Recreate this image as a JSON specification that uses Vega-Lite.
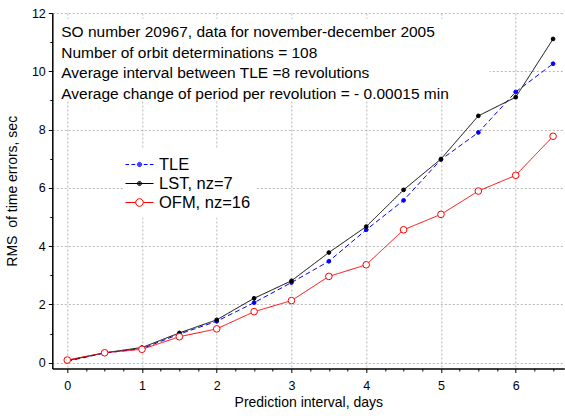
{
  "$schema": "https://vega.github.io/schema/vega-lite/v6.json",
  "autosize": "none",
  "width": 512,
  "height": 355.5,
  "padding": {"left": 52.3, "top": 13, "right": 1, "bottom": 48},
  "background": "white",
  "config": {
    "view": {"stroke": null},
    "font": "Liberation Sans"
  },
  "data": {
    "values": [
      {"series": "TLE", "t": 0, "rms": 0.05},
      {"series": "TLE", "t": 0.5, "rms": 0.33},
      {"series": "TLE", "t": 1, "rms": 0.48},
      {"series": "TLE", "t": 1.5, "rms": 0.98},
      {"series": "TLE", "t": 2, "rms": 1.42},
      {"series": "TLE", "t": 2.5, "rms": 2.06},
      {"series": "TLE", "t": 3, "rms": 2.75},
      {"series": "TLE", "t": 3.5, "rms": 3.48},
      {"series": "TLE", "t": 4, "rms": 4.56},
      {"series": "TLE", "t": 4.5, "rms": 5.57},
      {"series": "TLE", "t": 5, "rms": 6.97},
      {"series": "TLE", "t": 5.5, "rms": 7.9},
      {"series": "TLE", "t": 6, "rms": 9.29},
      {"series": "TLE", "t": 6.5, "rms": 10.26},
      {"series": "LST, nz=7", "t": 0, "rms": 0.07},
      {"series": "LST, nz=7", "t": 0.5, "rms": 0.34},
      {"series": "LST, nz=7", "t": 1, "rms": 0.52},
      {"series": "LST, nz=7", "t": 1.5, "rms": 1.02},
      {"series": "LST, nz=7", "t": 2, "rms": 1.47},
      {"series": "LST, nz=7", "t": 2.5, "rms": 2.21},
      {"series": "LST, nz=7", "t": 3, "rms": 2.81},
      {"series": "LST, nz=7", "t": 3.5, "rms": 3.78},
      {"series": "LST, nz=7", "t": 4, "rms": 4.67},
      {"series": "LST, nz=7", "t": 4.5, "rms": 5.93},
      {"series": "LST, nz=7", "t": 5, "rms": 6.99},
      {"series": "LST, nz=7", "t": 5.5, "rms": 8.47},
      {"series": "LST, nz=7", "t": 6, "rms": 9.11},
      {"series": "LST, nz=7", "t": 6.5, "rms": 11.11},
      {"series": "OFM, nz=16", "t": 0, "rms": 0.09},
      {"series": "OFM, nz=16", "t": 0.5, "rms": 0.34},
      {"series": "OFM, nz=16", "t": 1, "rms": 0.46},
      {"series": "OFM, nz=16", "t": 1.5, "rms": 0.89},
      {"series": "OFM, nz=16", "t": 2, "rms": 1.16},
      {"series": "OFM, nz=16", "t": 2.5, "rms": 1.75},
      {"series": "OFM, nz=16", "t": 3, "rms": 2.13},
      {"series": "OFM, nz=16", "t": 3.5, "rms": 2.96},
      {"series": "OFM, nz=16", "t": 4, "rms": 3.36},
      {"series": "OFM, nz=16", "t": 4.5, "rms": 4.56},
      {"series": "OFM, nz=16", "t": 5, "rms": 5.09},
      {"series": "OFM, nz=16", "t": 5.5, "rms": 5.89},
      {"series": "OFM, nz=16", "t": 6, "rms": 6.43},
      {"series": "OFM, nz=16", "t": 6.5, "rms": 7.77}
    ]
  },
  "resolve": {
    "scale": {"x": "shared", "y": "shared"},
    "axis": {"x": "independent", "y": "independent"}
  },
  "layer": [
    {
      "data": {"values": [{}]},
      "mark": {"type": "rect", "fill": "white"},
      "encoding": {
        "x": {
          "datum": -0.18, "type": "quantitative",
          "scale": {"domain": [-0.2, 6.65], "nice": false, "zero": false},
          "axis": {"orient": "bottom", "values": [0, 1, 2, 3, 4, 5, 6], "grid": true, "gridColor": "#b8b8b8", "gridDash": [2, 2], "gridWidth": 1, "domain": false, "ticks": false, "labels": false, "title": null, "zindex": 0}
        },
        "x2": {"datum": 5.65},
        "y": {
          "datum": 8.99, "type": "quantitative",
          "scale": {"domain": [-0.2, 12], "nice": false, "zero": false},
          "axis": {"orient": "left", "values": [0, 2, 4, 6, 8, 10, 12], "grid": true, "gridColor": "#b8b8b8", "gridDash": [2, 2], "gridWidth": 1, "domain": false, "ticks": false, "labels": false, "title": null, "zindex": 0}
        },
        "y2": {"datum": 11.8}
      }
    },
    {
      "mark": {"type": "point", "filled": false, "strokeWidth": 1, "opacity": 0},
      "encoding": {
        "x": {"field": "t", "type": "quantitative", "axis": null},
        "y": {"field": "rms", "type": "quantitative", "axis": null},
        "color": {
          "field": "series", "type": "nominal",
          "scale": {"domain": ["TLE", "LST, nz=7", "OFM, nz=16"], "range": ["#0000ff", "#000000", "#ff0000"]},
          "legend": {
            "orient": "none", "legendX": 71.2, "legendY": 135.5, "title": null,
            "padding": 6, "fillColor": "white", "strokeColor": null,
            "symbolSize": 361, "symbolStrokeWidth": 1, "symbolOpacity": 1,
            "labelFont": "Liberation Sans", "labelFontSize": 16.5, "labelColor": "black",
            "labelOffset": 9.5, "rowPadding": 0
          }
        },
        "shape": {
          "field": "series", "type": "nominal",
          "scale": {
            "domain": ["TLE", "LST, nz=7", "OFM, nz=16"],
            "range": [
              "M-1.474,0H-1.1M-0.85,0H-0.45M0.45,0H0.85M1.1,0H1.474M0.22,0A0.22,0.22,0,1,1,-0.22,0A0.22,0.22,0,1,1,0.22,0M0.13,0A0.13,0.13,0,1,1,-0.13,0A0.13,0.13,0,1,1,0.13,0M0.05,0A0.05,0.05,0,1,1,-0.05,0A0.05,0.05,0,1,1,0.05,0",
              "M-1.474,0H1.474M0.22,0A0.22,0.22,0,1,1,-0.22,0A0.22,0.22,0,1,1,0.22,0M0.13,0A0.13,0.13,0,1,1,-0.13,0A0.13,0.13,0,1,1,0.13,0M0.05,0A0.05,0.05,0,1,1,-0.05,0A0.05,0.05,0,1,1,0.05,0",
              "M-1.474,0H-0.4M0.4,0H1.474M0.4,0A0.4,0.4,0,1,1,-0.4,0A0.4,0.4,0,1,1,0.4,0"
            ]
          },
          "legend": {
            "orient": "none", "legendX": 71.2, "legendY": 135.5, "title": null,
            "padding": 6, "fillColor": "white", "strokeColor": null,
            "symbolSize": 361, "symbolStrokeWidth": 1, "symbolOpacity": 1,
            "labelFont": "Liberation Sans", "labelFontSize": 16.5, "labelColor": "black",
            "labelOffset": 9.5, "rowPadding": 0
          }
        }
      }
    },
    {
      "mark": {"type": "line", "strokeWidth": 1},
      "encoding": {
        "x": {
          "field": "t", "type": "quantitative",
          "axis": {"orient": "bottom", "values": [0, 1, 2, 3, 4, 5, 6], "grid": false, "domainColor": "black", "domainWidth": 1.5, "tickColor": "black", "tickSize": 4, "labelFontSize": 12.5, "labelColor": "black", "labelPadding": 7, "labelFont": "Liberation Sans", "title": "Prediction interval, days", "titleFont": "Liberation Sans", "titleFontSize": 14, "titleFontWeight": "normal", "titleColor": "black", "titleY": 34.5, "titleBaseline": "middle", "zindex": 1}
        },
        "y": {
          "field": "rms", "type": "quantitative",
          "axis": {"orient": "left", "values": [0, 2, 4, 6, 8, 10, 12], "grid": false, "domainColor": "black", "domainWidth": 1.5, "tickColor": "black", "tickSize": 4, "labelFontSize": 12.5, "labelColor": "black", "labelPadding": 3, "labelFont": "Liberation Sans", "title": "RMS\u00a0 of time errors, sec", "titleFont": "Liberation Sans", "titleFontSize": 14, "titleFontWeight": "normal", "titleColor": "black", "titleX": -40, "titleBaseline": "middle", "zindex": 1}
        },
        "stroke": {
          "field": "series", "type": "nominal",
          "scale": {"range": ["#000000", "#ff0000", "#0000ff"]},
          "legend": null
        },
        "strokeDash": {
          "field": "series", "type": "nominal",
          "scale": {"range": [[1, 0], [1, 0], [5, 3]]},
          "legend": null
        }
      }
    },
    {
      "mark": {"type": "point", "shape": "circle", "strokeWidth": 1, "opacity": 1},
      "encoding": {
        "x": {
          "field": "t", "type": "quantitative",
          "axis": {"orient": "bottom", "values": [0.25, 0.5, 0.75, 1.25, 1.5, 1.75, 2.25, 2.5, 2.75, 3.25, 3.5, 3.75, 4.25, 4.5, 4.75, 5.25, 5.5, 5.75, 6.25, 6.5], "grid": false, "domain": false, "labels": false, "tickColor": "black", "tickSize": 2.5, "title": null, "zindex": 1}
        },
        "y": {
          "field": "rms", "type": "quantitative",
          "axis": {"orient": "left", "values": [1, 3, 5, 7, 9, 11], "grid": false, "domain": false, "labels": false, "tickColor": "black", "tickSize": 2.5, "title": null, "zindex": 1}
        },
        "stroke": {
          "field": "series", "type": "nominal",
          "legend": null
        },
        "fill": {
          "field": "series", "type": "nominal",
          "scale": {"range": ["#000000", "#ffffff", "#0000ff"]},
          "legend": null
        },
        "size": {
          "condition": {"test": "datum.series === 'OFM, nz=16'", "value": 44},
          "value": 14
        }
      }
    },
    {
      "data": {"values": [{"note": "SO number 20967, data for november-december 2005\nNumber of orbit determinations = 108\nAverage interval between TLE =8 revolutions\nAverage change of period per revolution = - 0.00015 min"}]},
      "mark": {"type": "text", "align": "left", "baseline": "alphabetic", "lineBreak": "\n", "lineHeight": 20.6, "font": "Liberation Sans", "fontSize": 15.5, "color": "black"},
      "encoding": {
        "x": {"datum": -0.08, "type": "quantitative", "axis": null},
        "y": {"datum": 11.17, "type": "quantitative", "axis": null},
        "text": {"field": "note", "type": "nominal"}
      }
    }
  ]
}
